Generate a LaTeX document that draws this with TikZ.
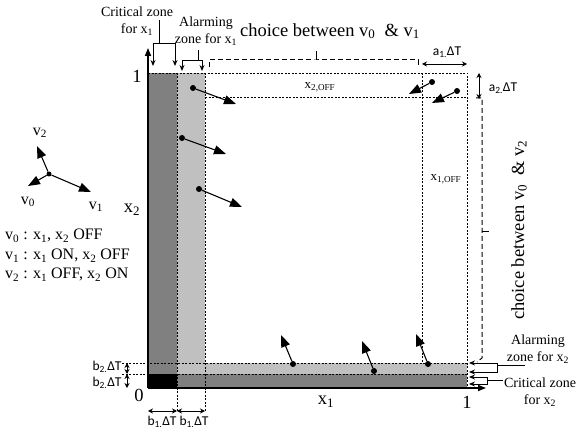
\documentclass[tikz,border=0pt]{standalone}
\usepackage{fontspec}
\setmainfont{Liberation Serif}
\newfontfamily\calib{Carlito}
\usetikzlibrary{arrows.meta, positioning}
\definecolor{critgray}{HTML}{808080}
\definecolor{alarmgray}{HTML}{C0C0C0}
\newcommand{\sbs}[1]{\textsubscript{#1}}

\begin{document}
\begin{tikzpicture}[x=1pt, y=-1pt,
    every node/.style={inner sep=0pt},
    lbl/.style={font=\fontsize{14}{17.5}\selectfont, align=center},
    leg/.style={font=\fontsize{16}{18}\selectfont},
    big/.style={font=\fontsize{18.5}{21}\selectfont},
    off/.style={font=\fontsize{13}{15}\selectfont},
    dt/.style={font=\calib\fontsize{13.5}{16}\selectfont},
    grid/.style={dash pattern=on 2pt off 1.5pt, line width=0.5pt},
    choice/.style={dash pattern=on 5pt off 3pt, line width=1pt},
    axis/.style={-{Triangle[length=8pt,width=6pt]}, line width=1.6pt},
    vec/.style={-{Triangle[length=12pt,width=9pt]}, line width=1.1pt},
    brk/.style={-{Stealth[length=6pt,width=5pt]}, line width=0.9pt},
    dim/.style={{Stealth[length=5pt,width=5pt]}-{Stealth[length=5pt,width=5pt]}, line width=0.9pt},
    dot/.style={circle, fill, minimum size=6pt}
]
\useasboundingbox (0,0) rectangle (576,438);

% zones
\fill[alarmgray] (177,73) rectangle (205,374);
\fill[alarmgray] (205,363) rectangle (467,374);
\fill[critgray] (148,73) rectangle (177,374);
\fill[critgray] (177,374) rectangle (467,388);
\fill[black] (148,374) rectangle (177,388);

% dashed limits
\draw[grid] (148,73) -- (467,73) -- (467,388);
\draw[grid] (177,73) -- (177,411);
\draw[grid] (205,73) -- (205,411);
\draw[grid] (122,363) -- (467,363);
\draw[grid] (122,374) -- (467,374);
\draw[grid] (205,97) -- (467,97);
\draw[grid] (422,73) -- (422,363);
\node[off] (x2off) at (320,87) {x\sbs{2,OFF}};
\node[off] (x1off) at (446,179) {x\sbs{1,OFF}};

% axes
\coordinate (O) at (148,388);
\coordinate (ytop) at (148,48);
\coordinate (xend) at (486,388);
\draw[axis] (O) -- (ytop);
\draw[axis] (O) -- (xend);
\node[big] (oney) at (137,76) {1};
\node[big] (zero) at (139,395) {0};
\node[big] (onex) at (467,402) {1};
\node[big] (xone) at (326,402) {x\sbs{1}};
\node[big] (xtwo) at (132,210) {x\sbs{2}};

% legend
\node[dot, minimum size=5pt] (vc) at (49,174) {};
\coordinate (vtwo) at (37,146);
\coordinate (vzero) at (28,186);
\coordinate (vone) at (91,192);
\draw[vec] (vc) -- (vtwo);
\draw[vec] (vc) -- (vzero);
\draw[vec] (vc) -- (vone);
\node[leg] (lvtwo) at (40,133) {v\sbs{2}};
\node[leg] (lvzero) at (28,202) {v\sbs{0}};
\node[leg] (lvone) at (96,207) {v\sbs{1}};
\node[leg, anchor=west] (lzero) at (5,236) {v\sbs{0} : x\sbs{1}, x\sbs{2} OFF};
\node[leg, anchor=west] (lone) at (5,256) {v\sbs{1} : x\sbs{1} ON, x\sbs{2} OFF};
\node[leg, anchor=west] (ltwo) at (5,275) {v\sbs{2} : x\sbs{1} OFF, x\sbs{2} ON};

% trajectories
\node[dot] (d1) at (193,88) {};   \coordinate (t1) at (236,104);
\node[dot] (d2) at (182,138) {};  \coordinate (t2) at (226,154);
\node[dot] (d3) at (199,189) {};  \coordinate (t3) at (242,207);
\node[dot] (d4) at (432,82) {};   \coordinate (t4) at (409,94);
\node[dot] (d5) at (457,91) {};   \coordinate (t5) at (432,103);
\node[dot] (d6) at (293,364) {};  \coordinate (t6) at (281,335);
\node[dot] (d7) at (374,371) {};  \coordinate (t7) at (362,341);
\node[dot] (d8) at (428,364) {};  \coordinate (t8) at (416,334);
\draw[vec] (d1) -- (t1);
\draw[vec] (d2) -- (t2);
\draw[vec] (d3) -- (t3);
\draw[vec] (d4) -- (t4);
\draw[vec] (d5) -- (t5);
\draw[vec] (d6) -- (t6);
\draw[vec] (d7) -- (t7);
\draw[vec] (d8) -- (t8);

% zones of x1
\node[lbl] (critone) at (137,21) {Critical zone\\for x\sbs{1}};
\coordinate (cas) at (159,20);
\coordinate (cam) at (159,43);
\coordinate (cal) at (153,66);
\coordinate (car) at (175,66);
\draw[line width=0.9pt] (cas) -- (cam);
\draw[brk] (cam) -| (cal);
\draw[brk] (cam) -| (car);
\node[lbl] (alarmone) at (206,31) {Alarming\\zone for x\sbs{1}};
\coordinate (aas) at (198,50);
\coordinate (aam) at (198,60);
\coordinate (aal) at (182,71);
\coordinate (aar) at (202,71);
\draw[line width=0.9pt] (aas) -- (aam);
\draw[brk] (aam) -| (aal);
\draw[brk] (aam) -| (aar);

% choice between v0 and v1
\node[big] (chone) at (330,31) {choice between v\sbs{0}\ \ \& v\sbs{1}};
\coordinate (bl) at (209,67);
\coordinate (bm) at (316,60);
\coordinate (br) at (418,67);
\coordinate (btk) at (316,51);
\draw[choice] (bl) |- (bm) -| (br);
\draw[line width=1pt] (bm) -- (btk);

% choice between v0 and v2
\node[big, rotate=90] (chtwo) at (519,230) {choice between v\sbs{0}\ \ \& v\sbs{2}};
\coordinate (rt) at (476,98);
\coordinate (rb) at (482,358);
\coordinate (re) at (477,362);
\coordinate (rm) at (482,232);
\coordinate (rtk) at (489,232);
\draw[choice] (rt) -| (rb) -- (re);
\draw[line width=1pt] (rm) -- (rtk);

% a.DT
\coordinate (aonel) at (422,64);
\coordinate (aoner) at (467,64);
\draw[dim] (aonel) -- (aoner);
\node[dt] (aone) at (447,52) {a\sbs{1.}ΔT};
\coordinate (atwot) at (479,73);
\coordinate (atwob) at (479,99);
\draw[dim] (atwot) -- (atwob);
\node[dt] (atwo) at (503,88) {a\sbs{2.}ΔT};

% b.DT
\coordinate (bta) at (127,363);
\coordinate (btb) at (127,374);
\coordinate (btc) at (127,388);
\draw[dim] (bta) -- (btb);
\draw[dim] (btb) -- (btc);
\node[dt] (btwoa) at (107,367) {b\sbs{2.}ΔT};
\node[dt] (btwob) at (107,383) {b\sbs{2.}ΔT};
\coordinate (boa) at (148,411);
\coordinate (bob) at (177,411);
\coordinate (boc) at (205,411);
\draw[dim] (boa) -- (bob);
\draw[dim] (bob) -- (boc);
\node[dt] (bonea) at (162,422) {b\sbs{1.}ΔT};
\node[dt] (boneb) at (194,422) {b\sbs{1.}ΔT};

% zones of x2
\node[lbl] (alarmtwo) at (538,349) {Alarming\\zone for x\sbs{2}};
\coordinate (zas) at (525,365);
\coordinate (zam) at (497,365);
\coordinate (zat) at (469,363);
\coordinate (zab) at (469,372);
\draw[line width=0.9pt] (zas) -- (zam);
\draw[brk] (zam) |- (zat);
\draw[brk] (zam) |- (zab);
\node[lbl] (crittwo) at (540,392) {Critical zone\\for x\sbs{2}};
\coordinate (zcs) at (503,380);
\coordinate (zcm) at (487,380);
\coordinate (zct) at (469,377);
\coordinate (zcb) at (469,384);
\draw[line width=0.9pt] (zcs) -- (zcm);
\draw[brk] (zcm) |- (zct);
\draw[brk] (zcm) |- (zcb);
\end{tikzpicture}
\end{document}
